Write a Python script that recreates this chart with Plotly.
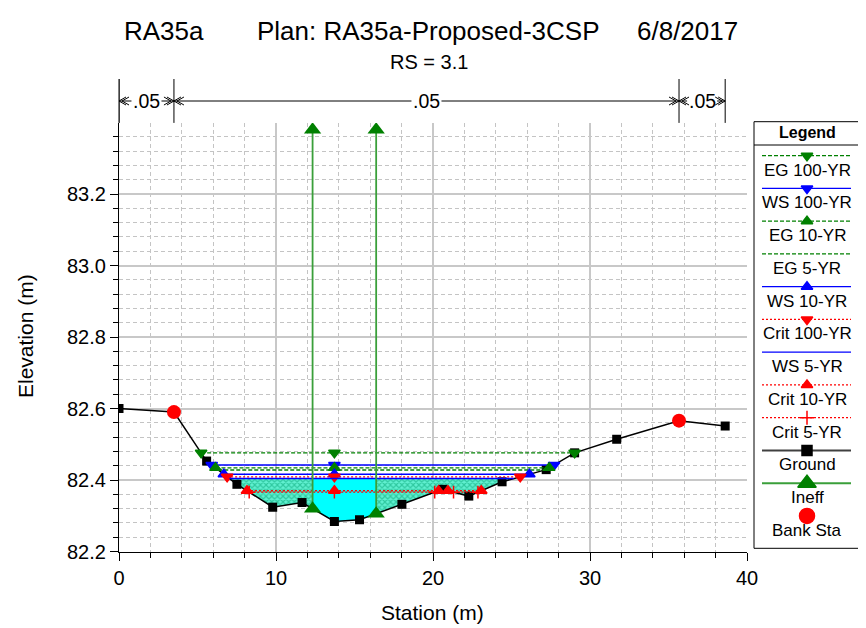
import numpy as np
import plotly.graph_objects as go

# page body has an 8px default margin: the figure is shifted by OFF on screen
OFF = 8
W, H = 866 - OFF, 628 - OFF
FONT = "Liberation Sans, Arial, sans-serif"

# ---------------- data ----------------
ground_sta = [0.0, 3.5, 5.58, 7.51, 9.79, 11.66, 13.72, 15.32, 18.02, 20.6, 22.28,
              24.4, 27.21, 29.02, 31.7, 35.67, 38.61]
ground_elev = [82.600, 82.590, 82.453, 82.388, 82.324, 82.337, 82.284, 82.289, 82.332,
               82.374, 82.355, 82.395, 82.429, 82.476, 82.514, 82.566, 82.551]

bank_sta = [3.5, 35.67]
ineff_sta = [12.33, 16.38]
ineff_elev = 83.38

n_sta = [0.0, 3.5, 35.67, 38.61]
n_val = [".05", ".05", ".05"]

profile_names = ["EG 100-YR", "WS 100-YR", "EG 10-YR", "EG 5-YR", "WS 10-YR",
                 "Crit 100-YR", "WS 5-YR", "Crit 10-YR", "Crit 5-YR"]
profile_wsel = [82.476, 82.442, 82.434, 82.428, 82.416, 82.409, 82.404, 82.370, 82.366]
fill_profile = "WS 5-YR"

title_left = "RA35a"
title_mid = "Plan: RA35a-Proposed-3CSP"
title_right = "6/8/2017"
subtitle = "RS = 3.1"
x_title = "Station (m)"
y_title = "Elevation (m)"

# ---------------- styles ----------------
GREEN = "#008000"
BLUE = "#0000ff"
RED = "#ff0000"
kind_style = {
    "EG": dict(color=GREEN, dash="4px,2px", width=1.3),
    "WS": dict(color=BLUE, dash="solid", width=1.5),
    "Crit": dict(color=RED, dash="2px,2px", width=1.3),
}
profile_marker = {
    "EG 100-YR": "triangle-down", "WS 100-YR": "triangle-down", "EG 10-YR": "triangle-up",
    "EG 5-YR": None, "WS 10-YR": "triangle-up", "Crit 100-YR": "triangle-down",
    "WS 5-YR": None, "Crit 10-YR": "triangle-up", "Crit 5-YR": "cross-thin",
}

# plot geometry (screen pixels of the reference)
PX_L, PX_R = 119.0, 747.0
PX_BOT, PX_TOP = 551.5, 122.9
XR = [0, 40]
YR = [82.2, 83.399]
px_per_m = (PX_R - PX_L) / (XR[1] - XR[0])


def py(p):  # screen pixel y -> paper
    return 1 - (p - OFF) / H


def pxp(p):  # screen pixel x -> paper
    return (p - OFF) / W


gs = np.array(ground_sta)
ge = np.array(ground_elev)


def wet_segments(w):
    segs = []
    cur = None
    d = w - ge
    for i in range(len(gs) - 1):
        d0, d1 = d[i], d[i + 1]
        if cur is None and d0 > 0:
            cur = [(gs[i], ge[i])]
        if d0 <= 0 < d1:
            s = gs[i] + (-d0) / (d1 - d0) * (gs[i + 1] - gs[i])
            cur = [(s, w)]
        elif d0 > 0 >= d1:
            s = gs[i] + d0 / (d0 - d1) * (gs[i + 1] - gs[i])
            cur.append((s, w))
            segs.append(cur)
            cur = None
            continue
        if cur is not None and d1 > 0:
            cur.append((gs[i + 1], ge[i + 1]))
    if cur is not None:
        segs.append(cur)
    return segs


fig = go.Figure()

# ---------------- water fill ----------------
w_fill = profile_wsel[profile_names.index(fill_profile)]
bounds = [XR[0]] + ineff_sta + [XR[1]]
for seg in wet_segments(w_fill):
    s_arr = np.array([p[0] for p in seg])
    for k in range(len(bounds) - 1):
        lo, hi = bounds[k], bounds[k + 1]
        a, b = max(lo, s_arr[0]), min(hi, s_arr[-1])
        if b <= a:
            continue
        inner = [p for p in seg if a < p[0] < b]
        pts = [(a, np.interp(a, gs, ge) if a > s_arr[0] else w_fill)] + inner + \
              [(b, np.interp(b, gs, ge) if b < s_arr[-1] else w_fill)]
        xs = [p[0] for p in pts] + [b, a]
        ys = [min(p[1], w_fill) for p in pts] + [w_fill, w_fill]
        center = (k == 1)
        fig.add_trace(go.Scatter(
            x=xs, y=ys, mode="lines", fill="toself", line=dict(width=0),
            fillcolor="#00ffff",
            fillpattern=None if center else dict(shape="x", fgcolor="#00a070", bgcolor="#60f0d0",
                                                 size=4, solidity=0.5),
            hoverinfo="skip", showlegend=False))

# ---------------- ground ----------------
fig.add_trace(go.Scatter(x=ground_sta, y=ground_elev, mode="lines+markers",
                         line=dict(color="black", width=1.5),
                         marker=dict(symbol="square", size=9, color="black"),
                         showlegend=False))

# ---------------- profiles ----------------
thal = gs[int(np.argmin(ge))]
for name, w in zip(profile_names, profile_wsel):
    kind = name.split()[0]
    st = kind_style[kind]
    segs = wet_segments(w)
    lx, ly, mx, my = [], [], [], []
    for seg in segs:
        lx += [seg[0][0], seg[-1][0], None]
        ly += [w, w, None]
        mx += [seg[0][0], seg[-1][0]]
        my += [w, w]
        if seg[0][0] < thal < seg[-1][0]:
            mx.append(thal)
            my.append(w)
    fig.add_trace(go.Scatter(x=lx, y=ly, mode="lines",
                             line=dict(color=st["color"], dash=st["dash"], width=st["width"]),
                             showlegend=False, hoverinfo="skip"))
    sym = profile_marker[name]
    if sym:
        fig.add_trace(go.Scatter(x=mx, y=my, mode="markers",
                                 marker=dict(symbol=sym, size=10 if sym != "cross-thin" else 9,
                                             color=st["color"],
                                             line=dict(color=st["color"], width=1.5)),
                                 showlegend=False))

# ---------------- ineffective ----------------
for s in ineff_sta:
    g = float(np.interp(s, gs, ge))
    fig.add_trace(go.Scatter(x=[s, s], y=[g, ineff_elev], mode="lines+markers",
                             line=dict(color="#3a9f3a", width=1.8),
                             marker=dict(symbol="triangle-up", size=15, color=GREEN),
                             showlegend=False))

# ---------------- bank stations ----------------
fig.add_trace(go.Scatter(x=bank_sta, y=np.interp(bank_sta, gs, ge), mode="markers",
                         marker=dict(symbol="circle", size=14, color=RED),
                         showlegend=False))

shapes = []
annotations = []

# ---------------- n-value header ----------------
Y_N = 101.0
m_per_px = 1.0 / px_per_m
for s in n_sta:
    shapes.append(dict(type="line", xref="x", yref="paper", x0=s, x1=s,
                       y0=py(PX_TOP), y1=py(79), line=dict(color="black", width=1)))
txt_half = 15 * m_per_px
aw, ah = 7 * m_per_px, 4.0 / H
for i, v in enumerate(n_val):
    x0, x1 = n_sta[i], n_sta[i + 1]
    mid = (x0 + x1) / 2
    yn = py(Y_N)
    if mid - txt_half > x0:
        shapes.append(dict(type="line", xref="x", yref="paper", x0=x0, x1=mid - txt_half,
                           y0=yn, y1=yn, line=dict(color="black", width=1)))
        shapes.append(dict(type="line", xref="x", yref="paper", x0=mid + txt_half, x1=x1,
                           y0=yn, y1=yn, line=dict(color="black", width=1)))
    for off in (0.0, 3 * m_per_px):
        tx = x0 + off
        shapes.append(dict(type="path", xref="x", yref="paper",
                           path=f"M {tx + aw},{yn + ah} L {tx},{yn} L {tx + aw},{yn - ah}",
                           line=dict(color="black", width=1)))
        tx = x1 - off
        shapes.append(dict(type="path", xref="x", yref="paper",
                           path=f"M {tx - aw},{yn + ah} L {tx},{yn} L {tx - aw},{yn - ah}",
                           line=dict(color="black", width=1)))
    annotations.append(dict(x=mid, y=yn, xref="x", yref="paper", text=v, showarrow=False,
                            font=dict(family=FONT, size=19.5, color="black"),
                            xanchor="center", yanchor="middle"))

# y-axis line extension above the grid
shapes.append(dict(type="line", xref="paper", yref="paper", x0=pxp(PX_L), x1=pxp(PX_L),
                   y0=py(PX_TOP), y1=py(79), line=dict(color="black", width=1)))

# ---------------- titles ----------------
annotations += [
    dict(x=pxp(122), y=py(31), xref="paper", yref="paper", text=title_left, showarrow=False,
         xanchor="left", yanchor="middle", font=dict(family=FONT, size=26, color="black")),
    dict(x=pxp(428.5), y=py(31), xref="paper", yref="paper", text=title_mid, showarrow=False,
         xanchor="center", yanchor="middle", font=dict(family=FONT, size=26, color="black")),
    dict(x=pxp(740), y=py(31), xref="paper", yref="paper", text=title_right, showarrow=False,
         xanchor="right", yanchor="middle", font=dict(family=FONT, size=26, color="black")),
    dict(x=pxp(429), y=py(62), xref="paper", yref="paper", text=subtitle, showarrow=False,
         xanchor="center", yanchor="middle", font=dict(family=FONT, size=20, color="black")),
    dict(x=pxp(432), y=py(612), xref="paper", yref="paper", text=x_title, showarrow=False,
         xanchor="center", yanchor="middle", font=dict(family=FONT, size=21, color="black")),
    dict(x=pxp(25), y=py(336), xref="paper", yref="paper", text=y_title, showarrow=False,
         textangle=-90, xanchor="center", yanchor="middle",
         font=dict(family=FONT, size=21, color="black")),
]

# ---------------- legend (screen-pixel axes x2/y2) ----------------
LX0, LX1, LT, LB = 754, 860, 121.7, 548.3
LC = (LX0 + LX1) / 2
shapes.append(dict(type="rect", xref="x2", yref="y2", x0=LX0, x1=LX1, y0=LT, y1=LB,
                   line=dict(color="black", width=1), fillcolor="white", layer="below"))
shapes.append(dict(type="line", xref="x2", yref="y2", x0=LX0, x1=LX1, y0=145, y1=145,
                   line=dict(color="black", width=1)))
annotations.append(dict(x=LC, y=132.5, xref="x2", yref="y2", text="<b>Legend</b>", showarrow=False,
                        xanchor="center", yanchor="middle",
                        font=dict(family=FONT, size=16, color="black")))

legend_items = []
for name in profile_names:
    kind = name.split()[0]
    st = kind_style[kind]
    legend_items.append((name, dict(color=st["color"], dash=st["dash"], width=1.3),
                         profile_marker[name], st["color"], 10))
legend_items.append(("Ground", dict(color="#404040", dash="solid", width=2), "square", "black", 10))
legend_items.append(("Ineff", dict(color="#3a9f3a", dash="solid", width=2), "triangle-up", GREEN, 16))
legend_items.append(("Bank Sta", None, "circle", RED, 15))

for i, (name, ln, sym, col, sz) in enumerate(legend_items):
    yi = 155.7 + 32.75 * i
    if ln is not None:
        fig.add_trace(go.Scatter(x=[762, 851], y=[yi, yi], xaxis="x2", yaxis="y2", mode="lines",
                                 line=ln, showlegend=False, hoverinfo="skip"))
    if sym:
        fig.add_trace(go.Scatter(x=[LC], y=[yi], xaxis="x2", yaxis="y2", mode="markers",
                                 marker=dict(symbol=sym, size=sz, color=col,
                                             line=dict(color=col, width=1.5)),
                                 showlegend=False, hoverinfo="skip"))
    annotations.append(dict(x=LC, y=yi + 14.5, xref="x2", yref="y2", text=name, showarrow=False,
                            xanchor="center", yanchor="middle",
                            font=dict(family=FONT, size=17, color="black")))

# outer frame (right edge)
shapes.append(dict(type="line", xref="paper", yref="paper", x0=pxp(864.5), x1=pxp(864.5),
                   y0=0, y1=1, line=dict(color="#808080", width=1)))

fig.update_layout(
    width=W, height=H,
    margin=dict(l=0, r=0, t=0, b=0, autoexpand=False),
    paper_bgcolor="white", plot_bgcolor="rgba(0,0,0,0)",
    showlegend=False,
    font=dict(family=FONT, color="black"),
    xaxis=dict(domain=[pxp(PX_L), pxp(PX_R)], range=XR, tick0=0, dtick=10, automargin=False,
               showline=True, linecolor="black", linewidth=1.2, mirror=False,
               ticks="outside", ticklen=8, tickwidth=1, tickcolor="black",
               tickfont=dict(family=FONT, size=20, color="black"),
               showgrid=True, gridcolor="#c8c8c8", gridwidth=1.5, zeroline=False,
               minor=dict(dtick=2, ticks="outside", ticklen=5, tickcolor="black", tickwidth=1,
                          showgrid=True, gridcolor="#c4c4c4", griddash="4px,3px", gridwidth=1),
               anchor="y", fixedrange=True),
    yaxis=dict(domain=[py(PX_BOT), py(PX_TOP)], range=YR, tick0=82.2, dtick=0.2, tickformat=".1f",
               automargin=False,
               showline=True, linecolor="black", linewidth=1.2, mirror=False,
               ticks="outside", ticklen=8, tickwidth=1, tickcolor="black",
               tickfont=dict(family=FONT, size=20, color="black"),
               showgrid=True, gridcolor="#c8c8c8", gridwidth=1.5, zeroline=False,
               minor=dict(dtick=0.04, ticks="outside", ticklen=5, tickcolor="black", tickwidth=1,
                          showgrid=True, gridcolor="#c4c4c4", griddash="4px,3px", gridwidth=1),
               anchor="x", fixedrange=True),
    xaxis2=dict(domain=[0, 1], range=[OFF, OFF + W], visible=False, anchor="y2", fixedrange=True,
                automargin=False),
    yaxis2=dict(domain=[0, 1], range=[OFF + H, OFF], visible=False, anchor="x2", fixedrange=True,
                automargin=False),
    shapes=shapes,
    annotations=annotations,
)

fig.write_html("out.html")
